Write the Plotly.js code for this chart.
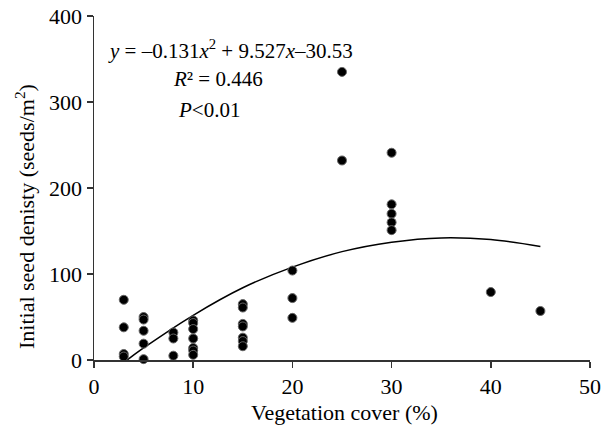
<!DOCTYPE html>
<html>
<head>
<meta charset="utf-8">
<script src="https://cdn.plot.ly/plotly-3.0.1.min.js"></script>
<style>html,body{margin:0;padding:0;background:#fff;}#chart{width:611px;height:425px;}</style>
</head>
<body>
<div id="chart"></div>
<script>
// Observed points: vegetation cover (%) and initial seed density (seeds/m2)
const coverX = [3,3,3,3, 5,5,5,5,5, 8,8,8, 10,10,10,10,10,10,10, 15,15,15,15,15,15,15, 20,20,20, 25,25, 30,30,30,30,30, 40, 45];
const densityY = [70,38,7,4, 50,47,34,19,1, 32,25,5, 46,43,36,25,14,11,6, 65,61,42,39,26,22,16, 104,72,49, 335,232, 241,181,170,160,151, 79, 57];
// Fitted curve
const fitX = [3,5,10,15,20,25,30,35,40,45];
const fitY = [-3,14,52,84,108,126,137,142,140,132];

const xTicks = [0,10,20,30,40,50];
const yTicks = [0,100,200,300,400];

const serif = "Liberation Serif, Times New Roman, serif";

const traces = [
  {x: fitX, y: fitY, type:'scatter', mode:'lines', line:{color:'#000', width:1.5, shape:'spline'}, hoverinfo:'skip'},
  {x: coverX, y: densityY, type:'scatter', mode:'markers', cliponaxis:false,
   marker:{color:'#000', size:9, line:{color:'#666', width:1}}}
];

const layout = {
  width:611, height:425,
  margin:{l:94, r:21, t:16, b:65},
  paper_bgcolor:'#fff', plot_bgcolor:'#fff',
  showlegend:false,
  font:{family:serif, size:22, color:'#000'},
  xaxis:{range:[0,50], tickvals:xTicks, ticktext:xTicks.map(String), showgrid:false, zeroline:false,
         showline:true, linecolor:'#333', linewidth:1.5, ticks:'outside', ticklen:6, tickwidth:1.5, tickcolor:'#333',
         tickfont:{family:serif, size:22}},
  yaxis:{range:[0,400], tickvals:yTicks, ticktext:yTicks.map(String), showgrid:false, zeroline:false,
         showline:true, linecolor:'#333', linewidth:1.5, ticks:'outside', ticklen:6, tickwidth:1.5, tickcolor:'#333',
         tickfont:{family:serif, size:22}},
  annotations:[
    {xref:'paper', yref:'paper', x:(106-94)/496, y:(360-50)/344, xanchor:'left', yanchor:'middle', showarrow:false,
     text:'<i>y</i> = –0.131<i>x</i><sup>2</sup> + 9.527<i>x</i>–30.53', font:{family:serif, size:21}},
    {xref:'paper', yref:'paper', x:(171-94)/496, y:(360-79)/344, xanchor:'left', yanchor:'middle', showarrow:false,
     text:'<i>R</i>² = 0.446', font:{family:serif, size:21}},
    {xref:'paper', yref:'paper', x:(176-94)/496, y:(360-110)/344, xanchor:'left', yanchor:'middle', showarrow:false,
     text:'<i>P</i><0.01', font:{family:serif, size:21}},
    {xref:'paper', yref:'paper', x:(344-94)/496, y:(360-412)/344, xanchor:'center', yanchor:'middle', showarrow:false,
     text:'Vegetation cover (%)', font:{family:serif, size:22}},
    {xref:'paper', yref:'paper', x:(25-94)/496, y:(360-217)/344, xanchor:'center', yanchor:'middle', showarrow:false, textangle:-90,
     text:'Initial seed denisty (seeds/m<sup>2</sup>)', font:{family:serif, size:22}}
  ]
};

Plotly.newPlot('chart', traces, layout, {displayModeBar:false, staticPlot:true});
</script>
</body>
</html>
